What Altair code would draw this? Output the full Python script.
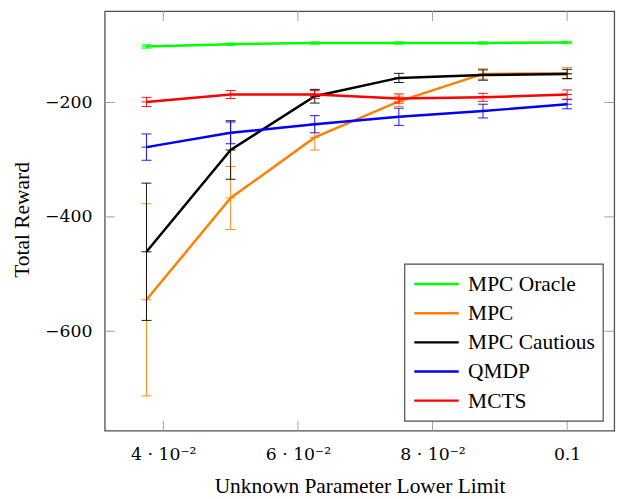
import altair as alt
import pandas as pd

# ---- data ----
x_vals = [0.0375, 0.05, 0.0625, 0.075, 0.0875, 0.1]
series_names = ["MPC Oracle", "MPC", "MPC Cautious", "QMDP", "MCTS"]
series_colors = ["#00ff00", "#ff8000", "#000000", "#0000ff", "#ff0000"]

oracle_y = [-102, -98, -96, -96, -96, -95]
oracle_e = [3, 2, 2, 2, 2, 2]
mpc_y = [-545, -367, -261, -198, -150, -149]
mpc_e = [168, 55, 22, 9, 9, 10]
cautious_y = [-461, -283, -189, -157, -152, -150]
cautious_e = [120, 51, 12, 8, 9, 8]
qmdp_y = [-278, -253, -238, -225, -215, -203]
qmdp_e = [23, 19, 15, 15, 12, 8]
mcts_y = [-199, -186, -186, -193, -191, -186]
mcts_e = [8, 7, 7, 8, 7, 8]

x_tick_values = [0.04, 0.06, 0.08, 0.1]
x_tick_labels = ["4 · 10⁻²", "6 · 10⁻²", "8 · 10⁻²", "0.1"]
y_tick_values = [-600, -400, -200]
y_tick_labels = ["−600", "−400", "−200"]

x_domain = [0.0313, 0.1070]
y_domain = [-773.9, -40.2]

W, H = 516, 425
SERIF = "Liberation Serif"
MATH = "DejaVu Serif"
TXT = 21.7

all_y = [oracle_y, mpc_y, cautious_y, qmdp_y, mcts_y]
all_e = [oracle_e, mpc_e, cautious_e, qmdp_e, mcts_e]

xs = alt.Scale(domain=x_domain, nice=False, zero=False)
ys = alt.Scale(domain=y_domain, nice=False, zero=False)
cs = alt.Scale(domain=series_names, range=series_colors)


def lab_expr(vals, labs):
    v = "[" + ",".join(repr(a) for a in vals) + "]"
    l = "[" + ",".join("'" + s + "'" for s in labs) + "]"
    return f"{l}[indexof({v}, datum.value)]"


x_axis = alt.Axis(
    values=x_tick_values, labelExpr=lab_expr(x_tick_values, x_tick_labels),
    ticks=False, tickSize=0, domain=False, grid=False,
    labelFont=MATH, labelFontSize=17.5, labelColor="black", labelPadding=15,
    title="Unknown Parameter Lower Limit", titleFont=SERIF, titleFontSize=TXT,
    titleFontWeight="normal", titleColor="black", titleBaseline="alphabetic",
    titleY=63,
)
y_axis = alt.Axis(
    values=y_tick_values, labelExpr=lab_expr(y_tick_values, y_tick_labels),
    ticks=False, tickSize=0, domain=False, grid=False,
    labelFont=MATH, labelFontSize=17.5, labelColor="black", labelPadding=13,
    title="Total Reward", titleFont=SERIF, titleFontSize=TXT,
    titleFontWeight="normal", titleColor="black", titleAngle=270,
    titleBaseline="alphabetic", titleAlign="center", titleX=-77, titleY=211,
)

layers = []

# inward tick marks on all four sides
xt = pd.DataFrame({"x": x_tick_values})
yt = pd.DataFrame({"y": y_tick_values})
tick_style = dict(color="#a0a0a0", strokeWidth=1)
layers.append(alt.Chart(xt).mark_rule(**tick_style).encode(
    x=alt.X("x:Q", scale=xs, axis=x_axis), y=alt.value(H), y2=alt.value(H - 10)))
layers.append(alt.Chart(xt).mark_rule(**tick_style).encode(
    x=alt.X("x:Q", scale=xs), y=alt.value(0), y2=alt.value(10)))
layers.append(alt.Chart(yt).mark_rule(**tick_style).encode(
    y=alt.Y("y:Q", scale=ys, axis=y_axis), x=alt.value(0), x2=alt.value(10)))
layers.append(alt.Chart(yt).mark_rule(**tick_style).encode(
    y=alt.Y("y:Q", scale=ys), x=alt.value(W - 10), x2=alt.value(W)))

for name, col, yv, ev in zip(series_names, series_colors, all_y, all_e):
    df = pd.DataFrame({
        "x": x_vals, "y": yv,
        "lo": [a - b for a, b in zip(yv, ev)],
        "hi": [a + b for a, b in zip(yv, ev)],
        "series": [name] * len(x_vals),
    })
    base = alt.Chart(df)
    layers.append(base.mark_rule(color=col, strokeWidth=1, opacity=0.9).encode(
        x=alt.X("x:Q", scale=xs), y=alt.Y("lo:Q", scale=ys), y2="hi:Q"))
    for f in ["lo", "hi", "y"]:
        layers.append(base.mark_tick(color=col, orient="horizontal", size=10,
                                     thickness=1, opacity=0.9).encode(
            x=alt.X("x:Q", scale=xs), y=alt.Y(f + ":Q", scale=ys)))
    layers.append(base.mark_line(strokeWidth=2.5).encode(
        x=alt.X("x:Q", scale=xs),
        y=alt.Y("y:Q", scale=ys),
        color=alt.Color("series:N", scale=cs, legend=alt.Legend(
            title=None, orient="none", legendX=303.5, legendY=256,
            symbolType="M-2,0H2", symbolSize=506, symbolStrokeWidth=2.5,
            symbolOffset=12, labelOffset=19.5, rowPadding=4.5, padding=8,
            labelFont=SERIF, labelFontSize=TXT, labelColor="black",
            labelBaseline="middle", labelLimit=0,
            labelExpr="datum.label + '\u00a0'",
            strokeColor="#4d4d4d", fillColor="white", cornerRadius=0,
        )),
    ))

chart = alt.layer(*layers).properties(
    width=W, height=H,
    autosize=alt.AutoSizeParams(type="none"),
    padding={"left": 98, "top": 0, "right": 19, "bottom": 66},
).configure_view(stroke="#4d4d4d", strokeWidth=1.3).configure_legend(
    strokeWidth=1.2
)

chart.save("out.html", embed_options={"renderer": "svg", "actions": False})
